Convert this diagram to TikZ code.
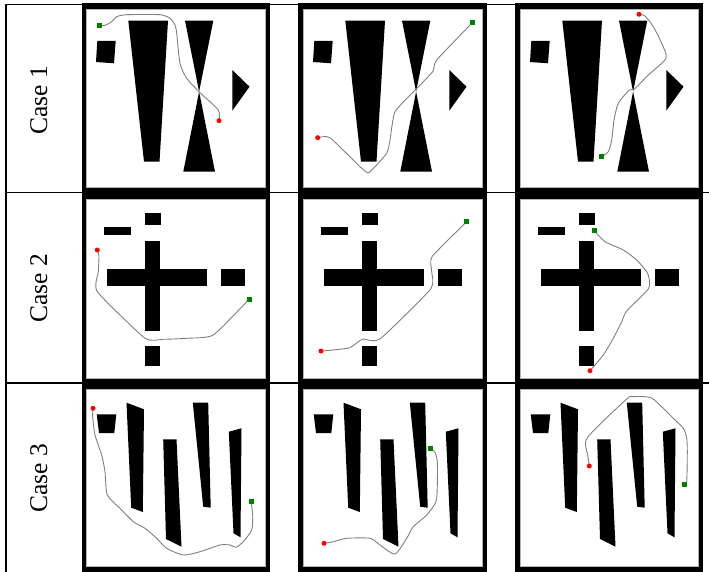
\documentclass[tikz,border=0pt]{standalone}
\usepackage{fontspec}
\setmainfont{Liberation Serif}
\newcommand\obsRowA{%
  \fill (11.3,32) -- (29.7,32) -- (28,54.3) -- (10,53) -- cycle;
  \fill (42.3,11.7) -- (82,11.7) -- (73.5,152.7) -- (58,152.7) -- cycle;
  \fill (99,11.7) -- (127.3,11.7) -- (113.1,82.6) -- cycle;
  \fill (113.1,82.6) -- (129,162.7) -- (97.3,162.7) -- cycle;
  \fill (146.3,61) -- (163.5,77.7) -- (146.3,101.7) -- cycle;}
\newcommand\obsRowB{%
  \fill (58.5,12.7) rectangle (75.3,25);
  \fill (18.3,27) rectangle (45.3,35);
  \fill (58.5,41) rectangle (74.3,131);
  \fill (21.3,69.3) rectangle (121.3,86);
  \fill (135.3,69.3) rectangle (158.7,86);
  \fill (59.3,146.3) rectangle (73.7,165.7);}
\newcommand\obsRowC{%
  \fill (10.7,25.3) -- (30.3,25.3) -- (28.3,44) -- (13,44) -- cycle;
  \fill (40.5,13.7) -- (58,20.3) -- (56.8,123) -- (45.2,118.7) -- cycle;
  \fill (77.2,50.3) -- (90.5,50.3) -- (95.5,157.7) -- (80,150) -- cycle;
  \fill (106.8,13.7) -- (122.2,13.7) -- (124.7,118.7) -- (117.2,117.7) -- cycle;
  \fill (142.8,42.7) -- (155.5,39.3) -- (154.5,148.3) -- (147.5,144.3) -- cycle;}
\begin{document}
\begin{tikzpicture}[x=1pt,y=-1pt,
  tline/.style={line width=1.6pt},
  route/.style={draw=black!50, line width=0.9pt, line join=round, line cap=round},
  startdot/.style={circle, fill=red, inner sep=0pt, minimum size=5pt},
  goalsq/.style={rectangle, fill=green!50!black, inner sep=0pt, minimum size=5pt},
  caselabel/.style={rotate=90, anchor=base, inner sep=0pt, font=\fontsize{25.5}{30}\selectfont},
  innerbox/.style={fill=white, draw=black!30, line width=0.6pt}]
\useasboundingbox (0,0) rectangle (709,572);
\fill[white] (0,0) rectangle (709,572);
% table rules
\draw[tline] (6,4.5) -- (703,4.5);
\draw[tline] (6,192.5) -- (709,192.5);
\draw[tline] (6,383) -- (709,383);
\draw[tline] (6,4) -- (6,572);
% frames
\foreach \xa/\xb/\xc/\xd in {82/86.5/265/270, 298/303/482/487, 515/520/698/703}{
  \foreach \ya/\yb/\yc/\yd in {3/9/187/192.5, 192.5/199.5/378/384, 384/389/566/580}{
    \fill[black] (\xa,\ya) rectangle (\xd,\yd);
    \filldraw[innerbox] (\xb,\yb) rectangle (\xc,\yc);
  }}
% labels
\node[caselabel] (c1) at (47,100.5) {Case 1};
\node[caselabel] (c2) at (47,288) {Case 2};
\node[caselabel] (c3) at (47,478) {Case 3};
% ---------- Row 1 ----------
\begin{scope}[shift={(86,9)}]
  \obsRowA
  \draw[route] plot[smooth, tension=0.4] coordinates {(13.3,16.3) (19,16.3) (25.7,12.7) (30.7,7.7) (40.7,5.7) (74,5.7) (84,9.3) (89,16) (90.7,24.3) (94,54.3) (100.7,69.3) (113,82.7) (132.3,101) (133,111.7)};
  \node[goalsq] (g11) at (13.3,16.3) {};
  \node[startdot] (s11) at (133,111.7) {};
\end{scope}
\begin{scope}[shift={(303,9)}]
  \obsRowA
  \draw[route] plot[smooth, tension=0.3] coordinates {(169.3,13.7) (133.7,51) (129.7,62.7) (113,80.3) (92,102.7) (87,131) (83.7,144.3) (66.3,163.3) (58.7,159.3) (27,128.7) (14.7,128.7)};
  \node[goalsq] (g12) at (169.3,13.7) {};
  \node[startdot] (s12) at (14.7,128.7) {};
\end{scope}
\begin{scope}[shift={(520,9)}]
  \obsRowA
  \draw[route] plot[smooth, tension=0.4] coordinates {(119,5.3) (125,7) (133.3,17.7) (141.7,34.3) (146,49.3) (128.3,66) (114,80.3) (109.3,81) (98.3,94.3) (94,111) (91.7,131) (88.3,142.7) (81.7,147.7)};
  \node[startdot] (s13) at (119,5.3) {};
  \node[goalsq] (g13) at (81.7,147.7) {};
\end{scope}
% ---------- Row 2 ----------
\begin{scope}[shift={(86,200)}]
  \obsRowB
  \draw[route] plot[smooth, tension=0.3] coordinates {(11.3,50) (13,56.7) (12.3,71.7) (11.3,91.7) (59,138.3) (77.3,139.3) (100.7,138.3) (127.3,135) (163.3,99)};
  \node[startdot] (s21) at (11.3,50) {};
  \node[goalsq] (g21) at (163.3,99) {};
\end{scope}
\begin{scope}[shift={(303,200)}]
  \obsRowB
  \draw[route] plot[smooth, tension=0.3] coordinates {(163.7,21.7) (129,56.7) (128.7,71.7) (127.7,89) (77,139) (60.3,139) (55.3,141.7) (47,147.7) (30.3,150) (18,151)};
  \node[goalsq] (g22) at (163.7,21.7) {};
  \node[startdot] (s22) at (18,151) {};
\end{scope}
\begin{scope}[shift={(520,200)}]
  \obsRowB
  \draw[route] plot[smooth, tension=0.4] coordinates {(74.3,30.7) (85,41.7) (103.3,50) (116.7,60) (126.7,71.7) (129,78.3) (128.3,89) (106.7,111) (101.7,121.7) (93.3,138.3) (83.3,155) (70,170.7)};
  \node[goalsq] (g23) at (74.3,30.7) {};
  \node[startdot] (s23) at (70,170.7) {};
\end{scope}
% ---------- Row 3 ----------
\begin{scope}[shift={(86,389)}]
  \obsRowC
  \draw[route] plot[smooth, tension=0.4] coordinates {(7,19.3) (6.7,27.7) (9,46) (15.7,66) (19,82.7) (21.3,106) (34,119.3) (47.3,132.7) (59,139.3) (70.7,149.3) (80.7,159.3) (97.3,166) (114,162.7) (134,156) (144,156) (150,158.3) (157.3,152.7) (165.7,141) (166.7,126) (165,112.7)};
  \node[startdot] (s31) at (7,19.3) {};
  \node[goalsq] (g31) at (165,112.7) {};
\end{scope}
\begin{scope}[shift={(303,389)}]
  \obsRowC
  \draw[route] plot[smooth, tension=0.4] coordinates {(127.3,59.7) (132,63.3) (134.3,72.7) (134.3,96) (133,112.7) (123.7,126) (110.3,137.7) (103.7,149.3) (92,165) (77,156) (67,149.3) (43.7,149.3) (30.3,152.7) (21,154.3)};
  \node[goalsq] (g32) at (127.3,59.7) {};
  \node[startdot] (s32) at (21,154.3) {};
\end{scope}
\begin{scope}[shift={(520,389)}]
  \obsRowC
  \draw[route] plot[smooth, tension=0.4] coordinates {(69.3,77) (67.7,66) (67.3,48.7) (106.7,10) (113.3,7.7) (125,7.7) (133.3,10) (151.7,27.7) (163.3,39.3) (166.7,49.3) (167.3,62.7) (166.7,92.7) (164,95.3)};
  \node[startdot] (s33) at (69.3,77) {};
  \node[goalsq] (g33) at (164,95.3) {};
\end{scope}
\end{tikzpicture}
\end{document}
